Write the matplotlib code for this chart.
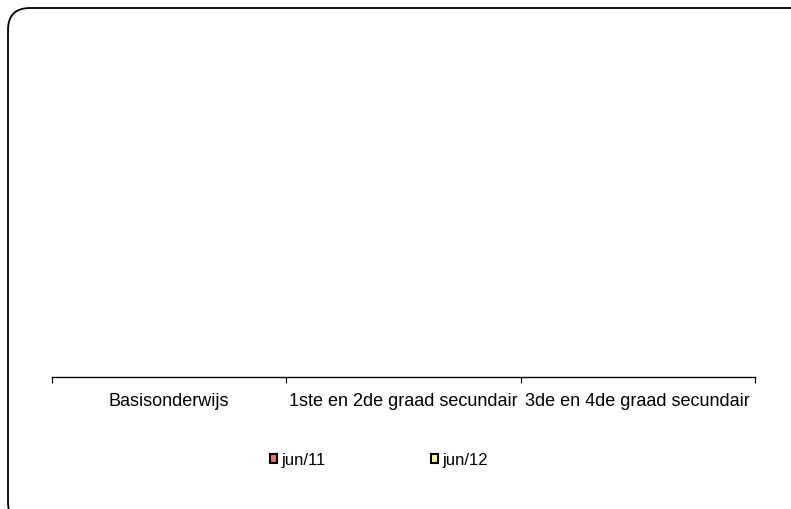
import matplotlib
matplotlib.use('Agg')
import matplotlib.pyplot as plt
from matplotlib.patches import FancyBboxPatch, Patch
from matplotlib.transforms import IdentityTransform
import numpy as np

plt.rcParams['font.family'] = ['Liberation Sans', 'DejaVu Sans']

categories = ['Basisonderwijs', '1ste en 2de graad secundair', '3de en 4de graad secundair']
series_names = ['jun/11', 'jun/12']
jun11 = [0, 0, 0]
jun12 = [0, 0, 0]
colors = ['#f07070', '#ffff88']

W, H = 791, 510
fig = plt.figure(figsize=(W/100, H/100), dpi=100)

# rounded chart border (pixel coords, runs off the right/bottom edge)
border = FancyBboxPatch((8, -15), 815, 516, boxstyle='round,pad=0,rounding_size=22',
                        transform=IdentityTransform(), facecolor='white',
                        edgecolor='black', linewidth=1.3, zorder=-5)
fig.patches.append(border)

ax = fig.add_axes([52/W, 132/H, (755-52)/W, 0.6])
ax.patch.set_alpha(0)
x = np.arange(len(categories))
w = 0.3
ax.bar(x - w/2, jun11, w, color=colors[0], linewidth=0)
ax.bar(x + w/2, jun12, w, color=colors[1], linewidth=0)
ax.set_xlim(-0.5, len(categories) - 0.5)
ax.set_ylim(0, 1)
for s in ['top', 'right', 'left']:
    ax.spines[s].set_visible(False)
ax.spines['bottom'].set_linewidth(1.0)
ax.set_yticks([])
ax.set_xticks(np.arange(-0.5, len(categories)), labels=[''] * (len(categories) + 1))
ax.tick_params(axis='x', which='major', length=4, width=0.8, direction='out')
ax.set_xticks(x, labels=categories, minor=True)
ax.tick_params(axis='x', which='minor', length=0, pad=11, labelsize=13)

handles = [Patch(facecolor=c, edgecolor='black', linewidth=1.5) for c in colors]
fig.legend(handles, series_names, loc='center', bbox_to_anchor=(379/W, 49/H), ncol=2,
           frameon=False, fontsize=12, handlelength=0.42, handleheight=0.42,
           handletextpad=0.25, columnspacing=6.3)

fig.savefig('out.png', dpi=100)
